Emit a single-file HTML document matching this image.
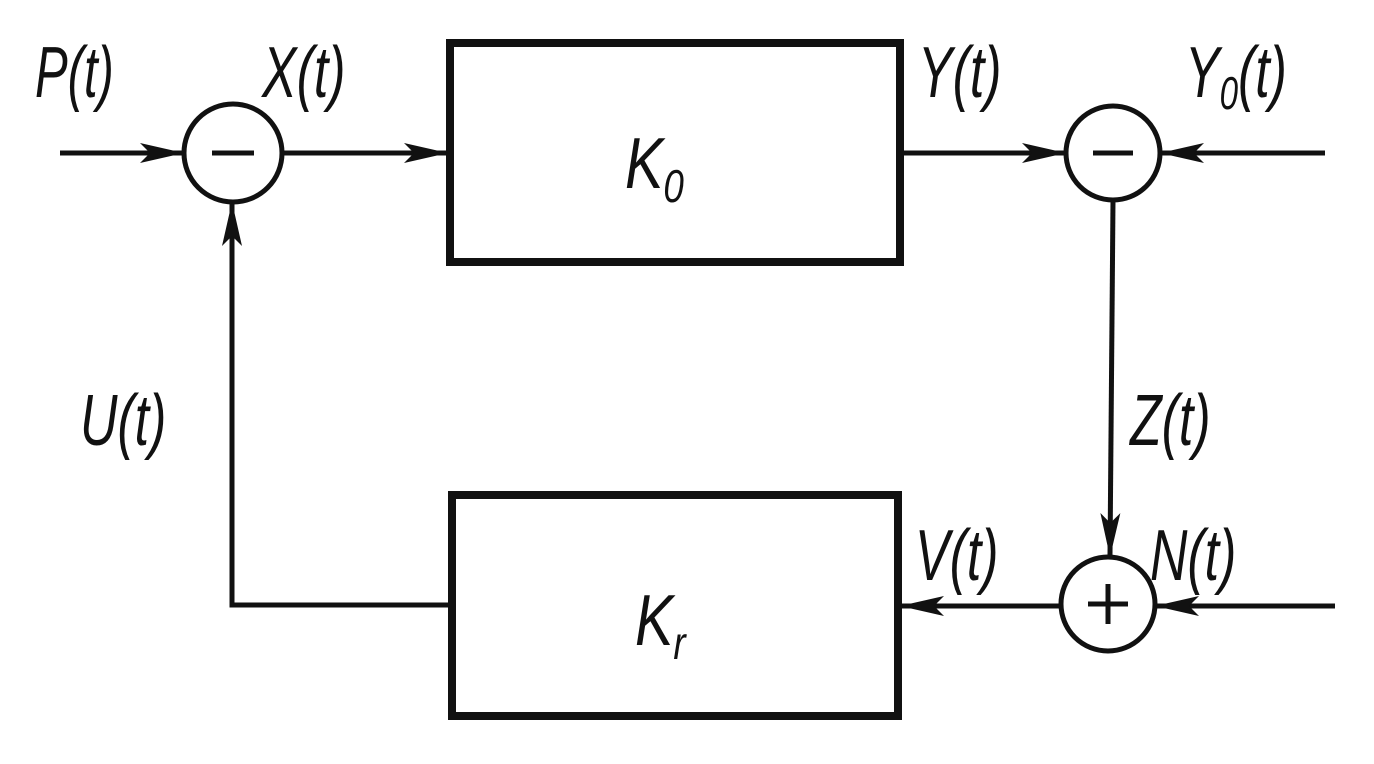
<!DOCTYPE html>
<html><head><meta charset="utf-8"><style>
html,body{margin:0;padding:0;background:#fff;}
svg{display:block;}
text{font-family:"Liberation Sans",sans-serif;font-style:italic;fill:#111;}
</style></head><body>
<svg width="1374" height="764" viewBox="0 0 1374 764" xmlns="http://www.w3.org/2000/svg">
<defs>
<marker id="a" markerWidth="46" markerHeight="20" refX="42" refY="10" orient="auto" markerUnits="userSpaceOnUse">
<path d="M0,0 L44,10 L0,20 L10,10 Z" fill="#111"/>
</marker>
</defs>
<g stroke="#111" stroke-width="5" fill="none">
<rect x="450" y="43" width="450" height="219" stroke-width="8"/>
<rect x="452" y="495" width="446" height="221" stroke-width="8"/>
<circle cx="233" cy="153" r="49"/>
<circle cx="1113" cy="153" r="47"/>
<circle cx="1108" cy="604" r="47"/>
<line x1="60" y1="153" x2="182" y2="153" marker-end="url(#a)"/>
<line x1="283" y1="153" x2="446" y2="153" marker-end="url(#a)"/>
<line x1="903" y1="153" x2="1064" y2="153" marker-end="url(#a)"/>
<line x1="1325" y1="153" x2="1162" y2="153" marker-end="url(#a)"/>
<line x1="1113" y1="200" x2="1110" y2="555" marker-end="url(#a)"/>
<line x1="1335" y1="606" x2="1157" y2="606" marker-end="url(#a)"/>
<line x1="1061" y1="606" x2="902" y2="606" marker-end="url(#a)"/>
<polyline points="450,605 232,605 232,204" marker-end="url(#a)"/>
</g>
<g stroke="#111" stroke-width="5">
<line x1="212" y1="153" x2="254" y2="153"/>
<line x1="1093" y1="153" x2="1133" y2="153"/>
<line x1="1088" y1="604" x2="1128" y2="604"/>
<line x1="1108" y1="584" x2="1108" y2="624"/>
</g>
<g font-size="72">
<text transform="translate(35,97) scale(0.68,1)">P(t)</text>
<text transform="translate(262,97) scale(0.72,1)">X(t)</text>
<text transform="translate(918,97) scale(0.72,1)">Y(t)</text>
<text transform="translate(1185,97) scale(0.72,1)">Y<tspan font-size="46" dy="12">0</tspan><tspan dy="-12">(t)</tspan></text>
<text transform="translate(80,445) scale(0.72,1)">U(t)</text>
<text transform="translate(1130,445) scale(0.72,1)">Z(t)</text>
<text transform="translate(915,580) scale(0.72,1)">V(t)</text>
<text transform="translate(1150,580) scale(0.72,1)">N(t)</text>
<text transform="translate(625,188) scale(0.8,1)">K<tspan font-size="46" dy="14">0</tspan></text>
<text transform="translate(635,645) scale(0.8,1)">K<tspan font-size="46" dy="14">r</tspan></text>
</g>
</svg>
</body></html>
